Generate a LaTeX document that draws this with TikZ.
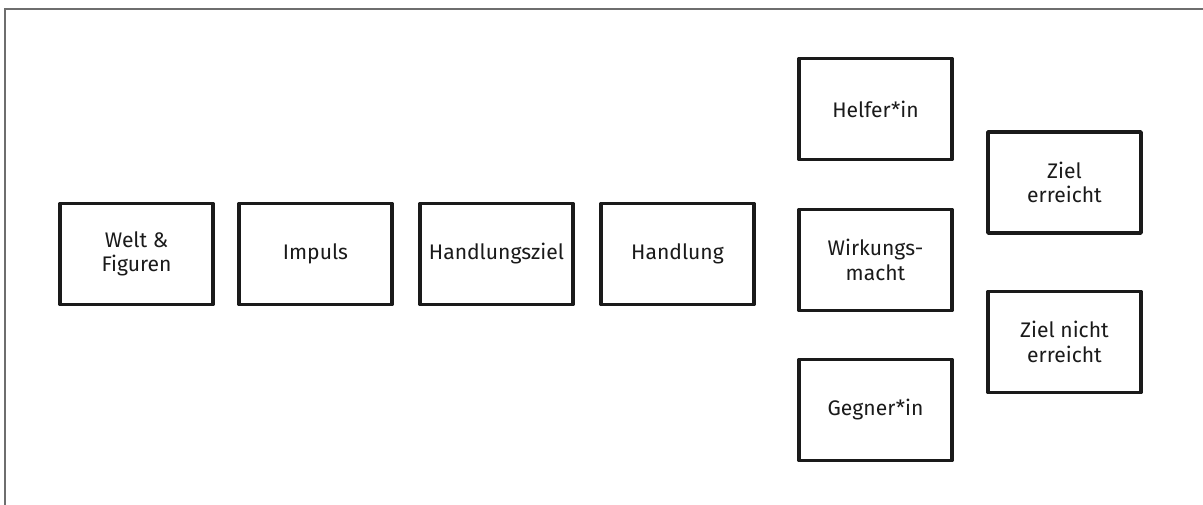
\documentclass[tikz,border=0pt]{standalone}
\usepackage{fontspec}
\setmainfont{Fira Sans}
\usepackage{tikz}
\usetikzlibrary{positioning}
\definecolor{frameGray}{HTML}{6E6E6E}
\definecolor{inkBlack}{HTML}{1A1A1A}

\begin{document}
\begin{tikzpicture}[
    card/.style={draw=inkBlack, line width=2pt, line join=round, fill=white, minimum width=3.06cm, minimum height=2.02cm, outer sep=0pt, align=center, font=\large, text=inkBlack, inner sep=2pt},
    frame/.style={draw=frameGray, line width=1.1pt}
  ]
    \useasboundingbox (0,0) rectangle (24.06,10.1);
    \draw[frame] (0.1,0) -- (0.1,9.92) -- (24.06,9.92);
    \node[card] at (2.73,5.02) (welt) {Welt \&\\Figuren};
    \node[card, right=0.52cm of welt] (impuls) {Impuls};
    \node[card, right=0.56cm of impuls] (hziel) {Handlungsziel};
    \node[card, right=0.56cm of hziel] (handlung) {Handlung};
    \node[card, right=0.9cm of handlung, yshift=-0.12cm] (wirkung) {Wirkungs-\\macht};
    \node[card, above=1.0cm of wirkung] (helfer) {Helfer*in};
    \node[card, below=0.98cm of wirkung] (gegner) {Gegner*in};
    \node[card, right=0.72cm of wirkung, yshift=1.55cm] (erreicht) {Ziel\\erreicht};
    \node[card, right=0.72cm of wirkung, yshift=-1.64cm] (nerreicht) {Ziel nicht\\erreicht};
  \end{tikzpicture}
\end{document}
